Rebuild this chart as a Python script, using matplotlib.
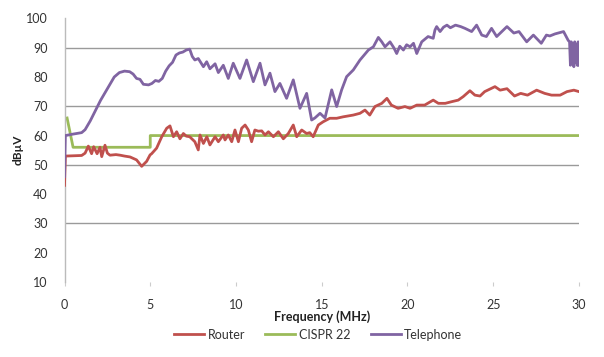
import matplotlib
matplotlib.use("Agg")
import matplotlib.pyplot as plt

# ---- data ----
tel_f = [0, 0.05, 0.5, 1.0, 1.2, 1.5, 1.8, 2.1, 2.4, 2.7, 2.9, 3.2, 3.5, 3.8, 4.0, 4.2, 4.4, 4.6, 4.9,
         5.1, 5.3, 5.5, 5.7, 5.9, 6.1, 6.3, 6.5, 6.7, 6.9, 7.1, 7.3, 7.45, 7.6, 7.8, 8.1, 8.29, 8.48,
         8.78, 8.97, 9.26, 9.55, 9.84, 10.23, 10.62, 11.01, 11.4, 11.69, 11.98, 12.27, 12.56, 12.95,
         13.34, 13.73, 14.12, 14.41, 14.6, 14.9, 15.19, 15.58, 15.87, 16.16, 16.45, 16.84, 17.23,
         17.72, 18.01, 18.3, 18.5, 18.69, 18.98, 19.2, 19.37, 19.55, 19.76, 19.95, 20.15, 20.35,
         20.54, 20.83, 21.2, 21.5, 21.6, 21.7, 21.9, 22.1, 22.3, 22.5, 22.8, 23.1, 23.35, 23.74,
         24.03, 24.33, 24.6, 24.9, 25.2, 25.5, 25.8, 26.2, 26.5, 26.95, 27.34, 27.8, 28.1, 28.3,
         28.6, 29.1, 29.37, 29.45, 29.5, 29.55, 29.6, 29.65, 29.7, 29.75, 29.8, 29.85, 29.9, 29.95, 30.0]
tel_v = [46, 60, 60.5, 61, 62, 65, 68.5, 72, 75, 78, 80, 81.5, 82, 81.8, 81, 79.5, 79.2, 77.5, 77.3,
         77.8, 78.8, 78.5, 79.5, 82, 83.8, 85, 87.5, 88.2, 88.5, 89.2, 89.5, 87, 85.8, 86.3, 83.5, 85.2, 82.8,
         84.5, 81.5, 84, 79.5, 84.7, 79.5, 85.8, 78.4, 84.7, 77.3, 81.3, 75, 77.8, 72.7,
         79, 69.3, 74.4, 65.3, 66, 67.6, 66, 75.6, 69.9, 75.6, 80.1, 82.4, 85.8,
         89.2, 90.3, 93.5, 92, 90.3, 92, 90, 88, 90.5, 89.2, 91, 90.3, 91.5,
         88, 92, 93.8, 93.2, 96, 97.2, 95.5, 97, 97.7, 96.8, 97.7, 97.2, 96.6, 95.5,
         97.7, 94.3, 93.8, 96.6, 93.8, 95.5, 97.2, 95, 95.5, 92, 94.3, 91.5, 94.3, 94,
         94.7, 95.5, 92.5, 92, 84, 92, 84.5, 91.5, 83.5, 92, 85, 91, 84, 92, 84]

rou_f = [0, 0.05, 1.0, 1.2, 1.39, 1.58, 1.7, 1.9, 2.07, 2.17, 2.36, 2.5, 2.65, 3.0, 3.24, 3.5, 3.82,
         4.2, 4.5, 4.79, 4.99, 5.08, 5.37, 5.67, 5.96, 6.15, 6.35, 6.54, 6.73, 6.93, 7.1, 7.3, 7.6,
         7.8, 7.9, 8.1, 8.3, 8.48, 8.78, 8.97, 9.26, 9.36, 9.55, 9.75, 9.94, 10.14, 10.33, 10.53,
         10.72, 10.91, 11.1, 11.3, 11.5, 11.69, 11.89, 12.18, 12.47, 12.76, 13.05, 13.34, 13.54,
         13.83, 14.12, 14.3, 14.5, 14.8, 15.08, 15.47, 15.87, 16.25, 16.84, 17.23, 17.52, 17.8,
         18.1, 18.5, 18.8, 19.06, 19.45, 19.85, 20.15, 20.54, 21.0, 21.5, 21.8, 22.2, 22.6, 22.96,
         23.25, 23.64, 23.93, 24.23, 24.5, 25.1, 25.4, 25.8, 26.24, 26.6, 27.0, 27.53, 28.0, 28.4,
         28.9, 29.3, 29.7, 30.0]
rou_v = [43, 53, 53.2, 54, 56.4, 53.8, 56.2, 53.8, 56, 52.8, 56.7, 54, 53.3, 53.5, 53.3, 53, 52.7,
         51.7, 49.5, 51.2, 53.4, 53.8, 55.7, 59.6, 62.5, 63.3, 59.6, 61.3, 58.9, 60.7, 59.8, 59.6, 57.9,
         55.1, 60.2, 57.3, 59.6, 56.8, 59.6, 57.9, 60.2, 58.5, 60.2, 57.9, 61.9, 57.9, 62.5, 63.6,
         61.9, 57.9, 61.9, 61.5, 61.6, 60.2, 61.3, 59.6, 61.3, 58.9, 60.7, 63.6, 59.6,
         61.9, 60.7, 61, 59.6, 63.6, 64.7, 65.9, 65.9, 66.4, 67, 67.6, 68.7, 67,
         69.9, 71, 72.7, 70.4, 69.3, 69.9, 69.3, 70.4, 70.4, 72.1, 71, 71, 71.6, 72.1,
         73.3, 75.3, 73.8, 73.5, 75, 76.7, 75.5, 76, 73.5, 74.4, 73.8, 75.5, 74.4, 73.8,
         73.8, 75, 75.5, 75]

cis_f = [0.15, 0.5, 5.0, 5.0, 30.0]
cis_v = [66, 56, 56, 60, 60]

xticks = [0, 5, 10, 15, 20, 25, 30]
yticks = [10, 20, 30, 40, 50, 60, 70, 80, 90, 100]
grid_levels = [30, 50, 70, 90]

plt.rcParams['font.family'] = ['Lato', 'DejaVu Sans']

fig = plt.figure(figsize=(6.04, 3.57), dpi=100)
ax = fig.add_axes([0.1068, 0.210, 0.8518, 0.7385])

for g in grid_levels:
    ax.axhline(g, color='#9a9a9a', lw=1.0, zorder=0)

ax.plot(rou_f, rou_v, color='#C0504D', lw=2.0, label='Router', zorder=3)
ax.plot(cis_f, cis_v, color='#9BBB59', lw=2.0, label='CISPR 22', zorder=2)
ax.plot(tel_f, tel_v, color='#8064A2', lw=2.0, label='Telephone', zorder=4)

ax.set_xlim(0, 30)
ax.set_ylim(10, 100)
ax.set_xticks(xticks)
ax.set_yticks(yticks)
for s in ['top', 'right', 'bottom']:
    ax.spines[s].set_visible(False)
ax.spines['left'].set_color('#bbbbbb')
ax.spines['left'].set_linewidth(1.0)
ax.tick_params(axis='y', length=0, pad=12, labelsize=9, labelcolor='#333333')
ax.tick_params(axis='x', length=3, color='#cccccc', pad=9, labelsize=9, labelcolor='#333333')

ax.set_xlabel('Frequency (MHz)', fontsize=9, fontweight='bold', labelpad=0, color='#222222')
ax.set_ylabel('dBµV', fontsize=8.5, fontweight='bold', labelpad=2, color='#222222')

fig.legend(loc='center', bbox_to_anchor=(0.527, 0.062), ncol=3, frameon=False,
           fontsize=9, handlelength=2.4, columnspacing=1.6, handletextpad=0.3,
           labelcolor='#333333')

fig.savefig('out.png', dpi=100)
